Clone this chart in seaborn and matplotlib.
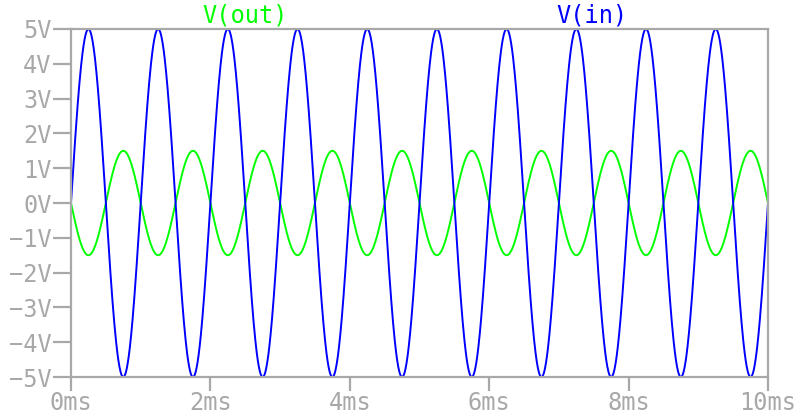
import numpy as np
import pandas as pd
import matplotlib
matplotlib.use("Agg")
import matplotlib.pyplot as plt
import seaborn as sns

# values
freq_hz = 1000.0          # one cycle per ms
vin_amp = 5.0             # V(in) peak
vout_amp = -1.5           # V(out) peak, inverted
t_end_ms = 10.0
x_ticks = [0, 2, 4, 6, 8, 10]
x_labels = ["0ms", "2ms", "4ms", "6ms", "8ms", "10ms"]
y_ticks = [-5, -4, -3, -2, -1, 0, 1, 2, 3, 4, 5]
y_labels = [f"\u2212{abs(v)}V" if v < 0 else f"{v}V" for v in y_ticks]

t_ms = np.linspace(0, t_end_ms, 2001)
vin = vin_amp * np.sin(2 * np.pi * freq_hz * t_ms / 1000)
vout = vout_amp * np.sin(2 * np.pi * freq_hz * t_ms / 1000)

df = pd.DataFrame({
    "t": np.concatenate([t_ms, t_ms]),
    "v": np.concatenate([vout, vin]),
    "trace": ["V(out)"] * len(t_ms) + ["V(in)"] * len(t_ms),
})

sns.set_style("white")
plt.rcParams["font.family"] = ["DejaVu Sans Mono", "DejaVu Sans"]
grey = "#a8a8a8"

fig = plt.figure(figsize=(7.97, 4.19), dpi=100)
ax = fig.add_axes([71 / 797, 1 - 377 / 419, (768 - 71) / 797, (377 - 29) / 419])
sns.lineplot(data=df, x="t", y="v", hue="trace",
             palette={"V(out)": "#00ff00", "V(in)": "#0000ff"},
             linewidth=1.4, legend=False, ax=ax, sort=False, estimator=None)

ax.set_xlim(0, t_end_ms)
ax.set_ylim(-5, 5)
ax.set_xticks(x_ticks)
ax.set_xticklabels(x_labels)
ax.set_yticks(y_ticks)
ax.set_yticklabels(y_labels)
ax.set_xlabel("")
ax.set_ylabel("")
for s in ax.spines.values():
    s.set_color(grey)
    s.set_linewidth(1.6)
ax.tick_params(axis="both", colors=grey, labelcolor=grey, labelsize=17,
               length=13, width=1.6, direction="out", pad=1,
               bottom=True, left=True)
ax.tick_params(axis="x", length=10, pad=0)

fig.text(245 / 797, 1 - 15 / 419, "V(out)", color="#00ff00", fontsize=17,
         ha="center", va="center")
fig.text(592 / 797, 1 - 15 / 419, "V(in)", color="#0000ff", fontsize=17,
         ha="center", va="center")

fig.savefig("out.png", dpi=100)
